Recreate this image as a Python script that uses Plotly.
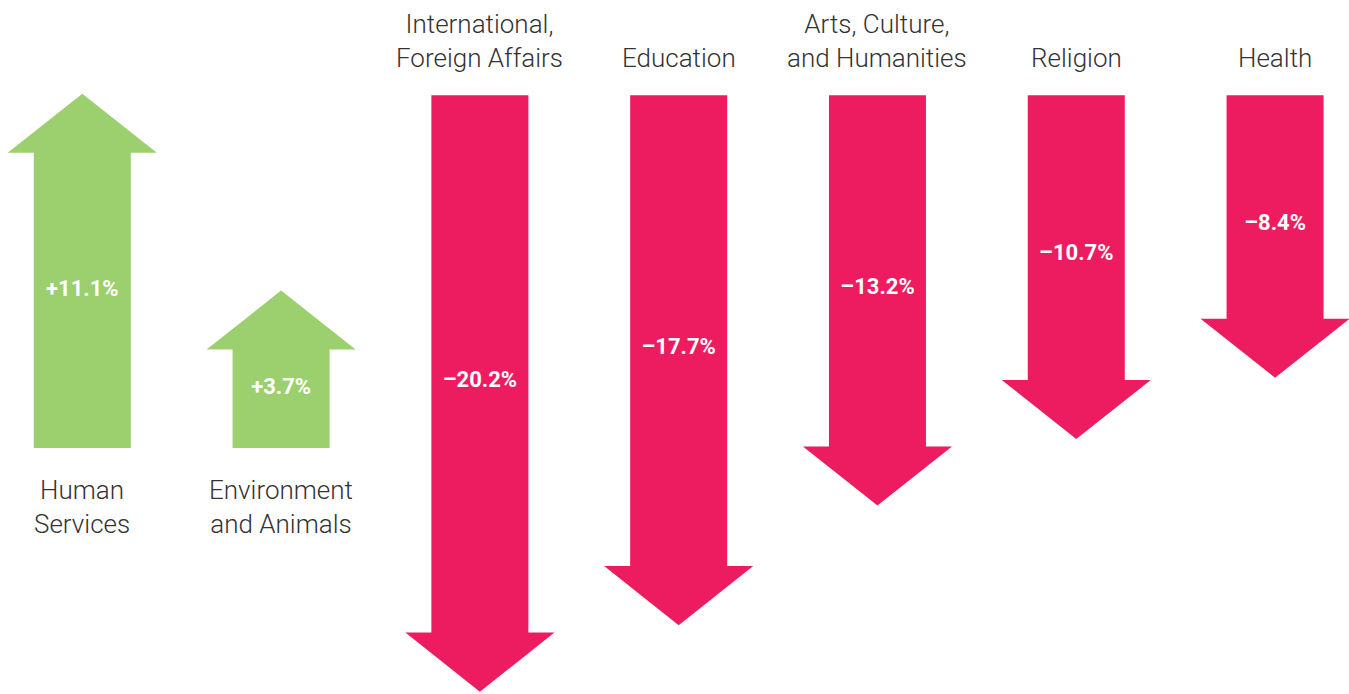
import plotly.graph_objects as go

# data
categories = [
    "Human<br>Services",
    "Environment<br>and Animals",
    "International,<br>Foreign Affairs",
    "Education",
    "Arts, Culture,<br>and Humanities",
    "Religion",
    "Health",
]
changes = [11.1, 3.7, -20.2, -17.7, -13.2, -10.7, -8.4]

GREEN = "#9ccf6d"
PINK = "#ed1c60"
TEXT = "#333333"

SHAFT_HALF = 0.244   # x units (category spacing = 1)
HEAD_HALF = 0.375
HEAD_LEN = 2.22      # y units (percent)

fig = go.Figure()

for i, (cat, v) in enumerate(zip(categories, changes)):
    up = v > 0
    s = 1 if up else -1
    xs = [i - SHAFT_HALF, i - SHAFT_HALF, i - HEAD_HALF, i, i + HEAD_HALF,
          i + SHAFT_HALF, i + SHAFT_HALF, i - SHAFT_HALF]
    ys = [0, v, v, v + s * HEAD_LEN, v, v, 0, 0]
    yaxis = "y" if up else "y2"
    fig.add_trace(go.Scatter(
        x=xs, y=ys, mode="lines", fill="toself",
        fillcolor=GREEN if up else PINK, line=dict(width=0),
        hoverinfo="skip", showlegend=False, yaxis=yaxis,
    ))
    fig.add_trace(go.Scatter(
        x=[i], y=[v / 2 + (0.38 if up else -0.65)], mode="text",
        text=[f"{v:+.1f}%".replace("-", "–")],
        textfont=dict(family="Roboto", size=22, color="white", weight="bold"),
        hoverinfo="skip", showlegend=False, yaxis=yaxis,
    ))
    # category labels: below up arrows, above down arrows
    fig.add_annotation(
        x=i, y=0, yref=yaxis, text=cat, showarrow=False,
        yanchor="top" if up else "bottom",
        yshift=-25 if up else 20,
        font=dict(family="Roboto", size=26, color=TEXT, weight=300),
        align="center",
    )

fig.update_layout(
    width=1349, height=694,
    margin=dict(l=0, r=0, t=0, b=0),
    paper_bgcolor="white", plot_bgcolor="white",
    xaxis=dict(range=[-0.414, 6.372], visible=False, fixedrange=True),
    yaxis=dict(range=[-9.248, 16.842], visible=False, fixedrange=True),
    yaxis2=dict(range=[-22.508, 3.583], visible=False, fixedrange=True,
                overlaying="y"),
)

fig.write_html(
    "out.html",
    config={"displayModeBar": False},
    post_script="document.body.style.margin='0';",
)
